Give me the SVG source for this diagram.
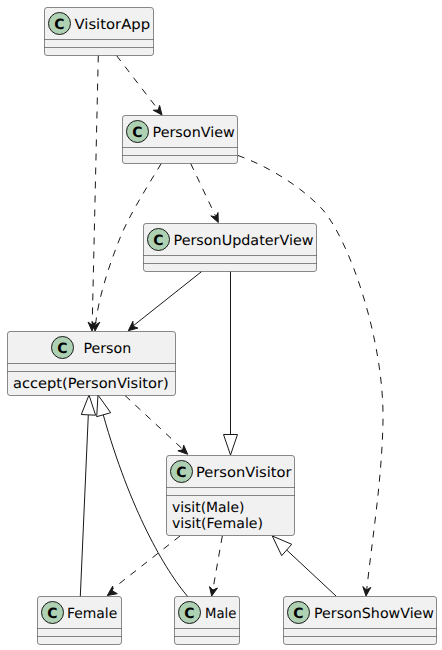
<svg xmlns="http://www.w3.org/2000/svg" width="442" height="650" viewBox="0 0 442 650">
<style>
.box{fill:#F1F1F1;stroke:#181818;stroke-width:.5}
.sep{stroke:#181818;stroke-width:.5;fill:none}
.spot{fill:#ADD1B2;stroke:#181818;stroke-width:1}
.c{font-family:"DejaVu Sans",sans-serif;font-size:14px;font-weight:bold;fill:#000;text-anchor:middle;text-rendering:geometricPrecision}
.t{font-family:"DejaVu Sans",sans-serif;font-size:14px;fill:#000;text-rendering:geometricPrecision}
.l{fill:none;stroke:#181818;stroke-width:1}
.d{stroke-dasharray:7,7}
.a{fill:#181818;stroke:#181818;stroke-width:1}
.h{fill:none;stroke:#181818;stroke-width:1}
</style>
<g id="connectors">
<path class="l d" d="M98.3,55.5 L92.2,325"/>
<path class="a" d="M92,331 L88,322 L92,325 L96,322 Z"/>
<path class="l d" d="M116.5,55.5 L158,109.5"/>
<path class="a" d="M162,115 L159.6,105.4 L158.2,110 L153.2,110.2 Z"/>
<path class="l d" d="M161.3,163.5 C145,190 128,218 120,238 C108,268 98,300 95.5,325"/>
<path class="a" d="M95,331 L91.8,321.6 L95.5,325 L99.8,322.2 Z"/>
<path class="l d" d="M190.7,163.5 L216,217"/>
<path class="a" d="M218.3,222.5 L218,212.5 L215.8,216.9 L210.8,215.9 Z"/>
<path class="l d" d="M238,155.5 C265,165 300,185 323,210 C350,242 384,340 383,420 C382,480 372,540 366.7,590"/>
<path class="a" d="M366,596 L362.8,586.6 L366.6,590 L370.8,587.4 Z"/>
<path class="l" d="M201.7,271.5 L133,326"/>
<path class="a" d="M128.3,330.7 L137.9,328.1 L133.3,326.3 L132.9,321.3 Z"/>
<path class="l" d="M230.5,271.5 L230.5,435"/>
<path class="h" d="M223.5,434.5 L237.5,434.5 L230.5,455 Z"/>
<path class="l d" d="M125,395.5 L183,449.5"/>
<path class="a" d="M187.7,454.3 L183.7,445.2 L182.7,449.8 L177.9,450.8 Z"/>
<path class="l" d="M80.3,596.5 L88.3,415"/>
<path class="h" d="M81.3,414.5 L95.6,415.2 L89,395 Z"/>
<path class="l" d="M187.7,596.5 C165,570 130,510 103.3,415"/>
<path class="h" d="M96.7,416.7 L110.7,412.7 L98,395 Z"/>
<path class="l d" d="M180,536 L112.5,589"/>
<path class="a" d="M107.3,595.5 L117.3,593.7 L112.5,590.9 L112.7,586.1 Z"/>
<path class="l d" d="M222.3,536 L212.8,590"/>
<path class="a" d="M211.7,596 L217.5,588 L212.9,590 L209.5,586.6 Z"/>
<path class="l" d="M336,596 L286.7,550"/>
<path class="h" d="M281.7,555.7 L291.7,544.3 L272.3,536 Z"/>
</g>
<g id="VisitorApp">
<rect class="box" x="44.5" y="7.5" width="109" height="48" rx="2.5"/>
<path class="sep" d="M44.5,39.5H153.5M44.5,47.5H153.5"/>
<circle class="spot" cx="59.5" cy="23.5" r="11"/>
<text class="c" x="59.5" y="28.5">C</text>
<text class="t" x="74.5" y="28.5" textLength="75.6" lengthAdjust="spacingAndGlyphs">VisitorApp</text>
</g>
<g id="PersonView">
<rect class="box" x="122.5" y="115.5" width="115" height="48" rx="2.5"/>
<path class="sep" d="M122.5,147.5H237.5M122.5,155.5H237.5"/>
<circle class="spot" cx="137.5" cy="131.5" r="11"/>
<text class="c" x="137.5" y="136.5">C</text>
<text class="t" x="152.5" y="136.5" textLength="82.3" lengthAdjust="spacingAndGlyphs">PersonView</text>
</g>
<g id="PersonUpdaterView">
<rect class="box" x="143.5" y="223.5" width="173" height="48" rx="2.5"/>
<path class="sep" d="M143.5,255.5H316.5M143.5,263.5H316.5"/>
<circle class="spot" cx="158.5" cy="239.5" r="11"/>
<text class="c" x="158.5" y="244.5">C</text>
<text class="t" x="173.5" y="244.5" textLength="140" lengthAdjust="spacingAndGlyphs">PersonUpdaterView</text>
</g>
<g id="Person">
<rect class="box" x="7.5" y="331.5" width="168" height="64" rx="2.5"/>
<path class="sep" d="M7.5,363.5H175.5M7.5,371.5H175.5"/>
<circle class="spot" cx="62.5" cy="347.5" r="11"/>
<text class="c" x="62.5" y="352.5">C</text>
<text class="t" x="83.5" y="352.5" textLength="47.7" lengthAdjust="spacingAndGlyphs">Person</text>
<text class="t" x="13" y="388" textLength="155.7" lengthAdjust="spacingAndGlyphs">accept(PersonVisitor)</text>
</g>
<g id="PersonVisitor">
<rect class="box" x="166.5" y="455.5" width="128" height="80" rx="2.5"/>
<path class="sep" d="M166.5,487.5H294.5M166.5,495.5H294.5"/>
<circle class="spot" cx="181.5" cy="471.5" r="11"/>
<text class="c" x="181.5" y="476.5">C</text>
<text class="t" x="196" y="476.5" textLength="95.5" lengthAdjust="spacingAndGlyphs">PersonVisitor</text>
<text class="t" x="172" y="512" textLength="72.4" lengthAdjust="spacingAndGlyphs">visit(Male)</text>
<text class="t" x="172" y="528" textLength="91" lengthAdjust="spacingAndGlyphs">visit(Female)</text>
</g>
<g id="Female">
<rect class="box" x="37.5" y="596.5" width="84" height="48" rx="2.5"/>
<path class="sep" d="M37.5,628.5H121.5M37.5,636.5H121.5"/>
<circle class="spot" cx="52.5" cy="612.5" r="11"/>
<text class="c" x="52.5" y="617.5">C</text>
<text class="t" x="67" y="617.5" textLength="50.3" lengthAdjust="spacingAndGlyphs">Female</text>
</g>
<g id="Male">
<rect class="box" x="174.5" y="596.5" width="65" height="48" rx="2.5"/>
<path class="sep" d="M174.5,628.5H239.5M174.5,636.5H239.5"/>
<circle class="spot" cx="189.5" cy="612.5" r="11"/>
<text class="c" x="189.5" y="617.5">C</text>
<text class="t" x="205" y="617.5" textLength="31.3" lengthAdjust="spacingAndGlyphs">Male</text>
</g>
<g id="PersonShowView">
<rect class="box" x="283.5" y="596.5" width="153" height="48" rx="2.5"/>
<path class="sep" d="M283.5,628.5H436.5M283.5,636.5H436.5"/>
<circle class="spot" cx="298.5" cy="612.5" r="11"/>
<text class="c" x="298.5" y="617.5">C</text>
<text class="t" x="314" y="617.5" textLength="120" lengthAdjust="spacingAndGlyphs">PersonShowView</text>
</g>
</svg>
